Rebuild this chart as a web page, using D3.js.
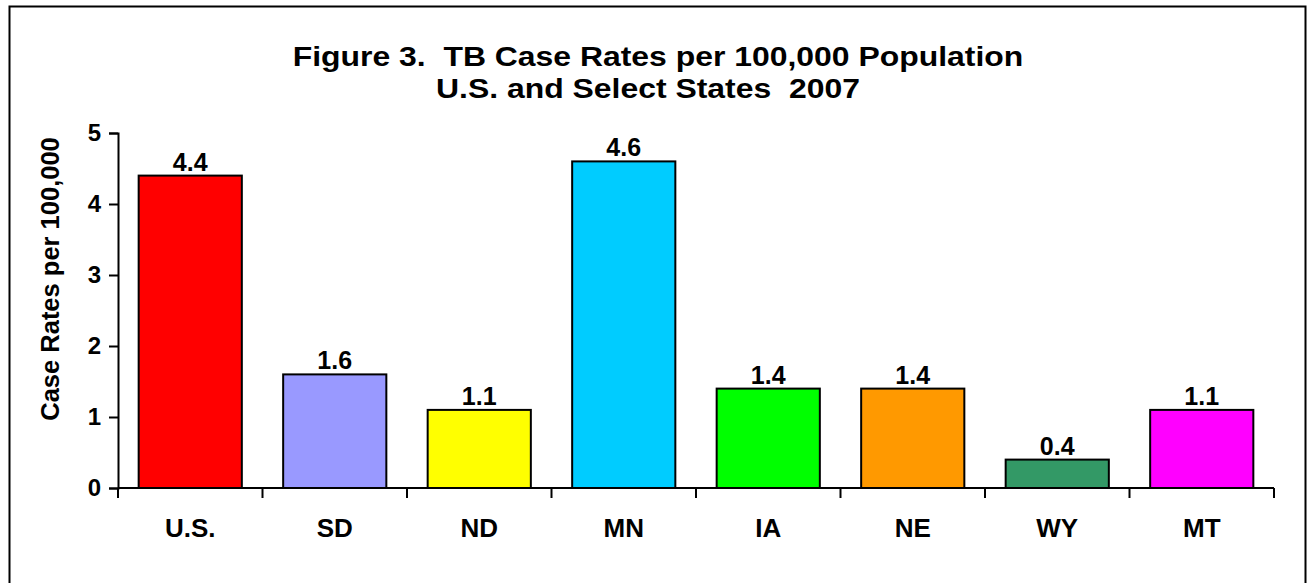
<!DOCTYPE html>
<html>
<head>
<meta charset="utf-8">
<script src="https://cdn.jsdelivr.net/npm/d3@7"></script>
<style>
  body { margin: 0; background: #fff; }
  svg { display: block; font-family: "Liberation Sans", Arial, sans-serif; font-weight: bold; }
  text { white-space: pre; }
</style>
</head>
<body>
<svg width="1308" height="583"></svg>
<script>
const WIDTH = 1308
const HEIGHT = 583

const categories = ['U.S.', 'SD', 'ND', 'MN', 'IA', 'NE', 'WY', 'MT']
const rates = [4.4, 1.6, 1.1, 4.6, 1.4, 1.4, 0.4, 1.1]
const barColors = ['#ff0000', '#9999ff', '#ffff00', '#00ccff', '#00ff00', '#ff9900', '#339966', '#ff00ff']
const yTicks = [0, 1, 2, 3, 4, 5]
const titleLines = ['Figure 3.  TB Case Rates per 100,000 Population', 'U.S. and Select States  2007']
const yTitle = 'Case Rates per 100,000'

const svg = d3.select('svg')

// outer frame (bottom edge runs off the picture)
svg.append('rect')
    .attr('x', 9.5).attr('y', 6.5)
    .attr('width', 1296).attr('height', 640)
    .attr('fill', 'none').attr('stroke', '#000').attr('stroke-width', 2)

const x = d3.scaleBand()
    .domain(categories)
    .range([118, 1274])
    .paddingInner(0.286)
    .paddingOuter(0.143)

const y = d3.scaleLinear()
    .domain([0, 5])
    .range([488, 133])

// title, slightly stretched sideways like the original
const titleX = [658, 648]
svg.append('g').selectAll('text')
    .data(titleLines)
    .enter().append('text')
    .attr('transform', (d, i) => `translate(${titleX[i]},${66 + i * 32}) scale(1.14,1)`)
    .attr('text-anchor', 'middle')
    .attr('font-size', 28)
    .text(d => d)

// y axis
const yAxis = svg.append('g')
    .attr('transform', 'translate(118,0)')
    .call(d3.axisLeft(y).tickValues(yTicks).tickFormat(d3.format('d')).tickSizeOuter(0).tickSize(9).tickPadding(8))
yAxis.select('.domain').attr('stroke-width', 2)
yAxis.selectAll('.tick line').attr('stroke-width', 2)
yAxis.selectAll('.tick text')
    .attr('font-size', 24).attr('font-weight', 'bold')
    .attr('font-family', '"Liberation Sans", Arial, sans-serif')

svg.append('text')
    .attr('transform', 'translate(59,279) rotate(-90)')
    .attr('text-anchor', 'middle')
    .attr('font-size', 25.5)
    .text(yTitle)

// bars
svg.append('g')
    .attr('stroke', '#000')
    .attr('stroke-width', 2)
    .selectAll('rect')
    .data(rates)
    .enter().append('rect')
    .attr('x', (d, i) => x(categories[i]))
    .attr('y', d => y(d))
    .attr('width', x.bandwidth())
    .attr('height', d => y(0) - y(d))
    .attr('fill', (d, i) => barColors[i])

// value labels
svg.append('g').selectAll('text')
    .data(rates)
    .enter().append('text')
    .attr('x', (d, i) => x(categories[i]) + x.bandwidth() / 2)
    .attr('y', d => y(d) - 5)
    .attr('text-anchor', 'middle')
    .attr('font-size', 25)
    .text(d => d3.format('.1f')(d))

// x axis line with tick marks between categories
const step = x.step()
const boundaries = d3.range(categories.length + 1).map(i => 118 + i * step)
svg.append('line')
    .attr('x1', 118).attr('x2', 1274)
    .attr('y1', y(0)).attr('y2', y(0))
    .attr('stroke', '#000').attr('stroke-width', 2)
svg.append('g').selectAll('line')
    .data(boundaries)
    .enter().append('line')
    .attr('x1', d => d).attr('x2', d => d)
    .attr('y1', y(0)).attr('y2', y(0) + 10)
    .attr('stroke', '#000').attr('stroke-width', 2)

// category labels
svg.append('g').selectAll('text')
    .data(categories)
    .enter().append('text')
    .attr('x', d => x(d) + x.bandwidth() / 2)
    .attr('y', 537)
    .attr('text-anchor', 'middle')
    .attr('font-size', 26)
    .text(d => d)
</script>
</body>
</html>
